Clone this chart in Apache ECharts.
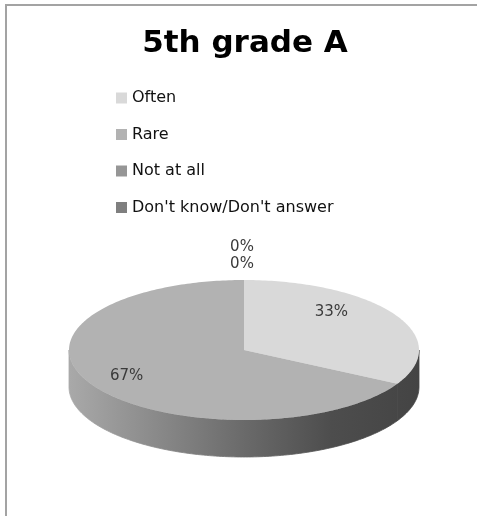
<!DOCTYPE html>
<html>
<head>
<meta charset="utf-8">
<script src="https://cdn.jsdelivr.net/npm/echarts@6/dist/echarts.min.js"></script>
<style>
  html, body { margin: 0; padding: 0; background: #fff; }
  #chart { width: 477px; height: 516px; }
</style>
</head>
<body>
<div id="chart"></div>
<script>
// Survey answers (percent of pupils)
const categories = ['Often', 'Rare', 'Not at all', "Don't know/Don't answer"];
const values = [33, 67, 0, 0];
const titleText = '5th grade A';

// Styling
const topColors = ['#d9d9d9', '#b2b2b2', '#969696', '#7f7f7f'];
const pie = { cx: 244, cy: 350, rx: 175, ry: 70, depth: 37 };

const total = values.reduce((a, b) => a + b, 0);
const startAngles = [];
let acc = 0;
values.forEach(v => { startAngles.push(acc / total * 360); acc += v; });

// point on the tilted rim, angle measured clockwise from 12 o'clock
function rimPoint(deg, dy) {
  const r = deg * Math.PI / 180;
  return [pie.cx + pie.rx * Math.sin(r), pie.cy - pie.ry * Math.cos(r) + (dy || 0)];
}
function rimArc(a0, a1, dy) {
  const pts = [];
  const n = Math.max(1, Math.ceil(a1 - a0));
  for (let i = 0; i <= n; i++) pts.push(rimPoint(a0 + (a1 - a0) * i / n, dy));
  return pts;
}

const sideFill = {
  type: 'linear', global: true,
  x: pie.cx - pie.rx, y: 0, x2: pie.cx + pie.rx, y2: 0,
  colorStops: [
    { offset: 0, color: '#a9a9a9' },
    { offset: 0.5, color: '#6a6a6a' },
    { offset: 0.75, color: '#4d4d4d' },
    { offset: 1, color: '#444444' }
  ]
};

const zeroOrder = [];
values.forEach((v, i) => { if (v === 0) zeroOrder.push(i); });

function renderSlice(params) {
  const i = params.seriesIndex;
  const v = values[i];
  const a0 = startAngles[i];
  const a1 = a0 + v / total * 360;
  const children = [];
  if (v > 0) {
    // front wall: only the part of the rim facing the viewer
    const s = Math.max(a0, 90), e = Math.min(a1, 270);
    if (e > s) {
      const upper = rimArc(s, e, 0);
      const lower = rimArc(s, e, pie.depth).reverse();
      children.push({
        type: 'polygon', z2: 1,
        shape: { points: upper.concat(lower) },
        style: { fill: sideFill, stroke: sideFill, lineWidth: 0.8 }
      });
    }
    children.push({
      type: 'polygon', z2: 5,
      shape: { points: [[pie.cx, pie.cy]].concat(rimArc(a0, a1, 0)) },
      style: { fill: topColors[i] }
    });
  }
  const pct = Math.round(v / total * 100) + '%';
  let lx, ly;
  if (v > 0) {
    const m = (a0 + a1) / 2 * Math.PI / 180;
    lx = pie.cx - 15 + pie.rx * 0.68 * Math.sin(m);
    ly = pie.cy - 6 - pie.ry * 0.89 * Math.cos(m);
  } else {
    const k = zeroOrder.indexOf(i);
    lx = pie.cx - 2;
    ly = pie.cy - pie.ry - 16 - 17 * k;
  }
  children.push({
    type: 'text', z2: 10,
    style: {
      text: pct, x: lx, y: ly, align: 'center', verticalAlign: 'middle',
      fontFamily: 'DejaVu Sans', fontSize: 15, fill: '#3a3a3a'
    }
  });
  return { type: 'group', children };
}

const chart = echarts.init(document.getElementById('chart'), null, { renderer: 'canvas' });
chart.setOption({
  animation: false,
  backgroundColor: '#ffffff',
  title: {
    text: titleText,
    left: 245,
    textAlign: 'center',
    top: 28,
    padding: 0,
    textStyle: { fontFamily: 'DejaVu Sans', fontWeight: 'bold', fontSize: 31, color: '#000000' }
  },
  legend: {
    orient: 'vertical',
    left: 116,
    top: 90,
    padding: 0,
    icon: 'rect',
    itemWidth: 11,
    itemHeight: 11,
    itemGap: 20.5,
    selectedMode: false,
    data: categories,
    textStyle: { fontFamily: 'DejaVu Sans', fontSize: 16, lineHeight: 16, color: '#111111' }
  },
  graphic: [{
    type: 'polyline',
    shape: { points: [[6, 520], [6, 5], [480, 5]] },
    style: { stroke: '#a3a3a3', lineWidth: 2, fill: null },
    silent: true
  }],
  series: categories.map((name, i) => ({
    type: 'custom',
    name: name,
    coordinateSystem: 'none',
    renderItem: renderSlice,
    data: [0],
    itemStyle: { color: topColors[i] },
    silent: true
  }))
});
</script>
</body>
</html>
